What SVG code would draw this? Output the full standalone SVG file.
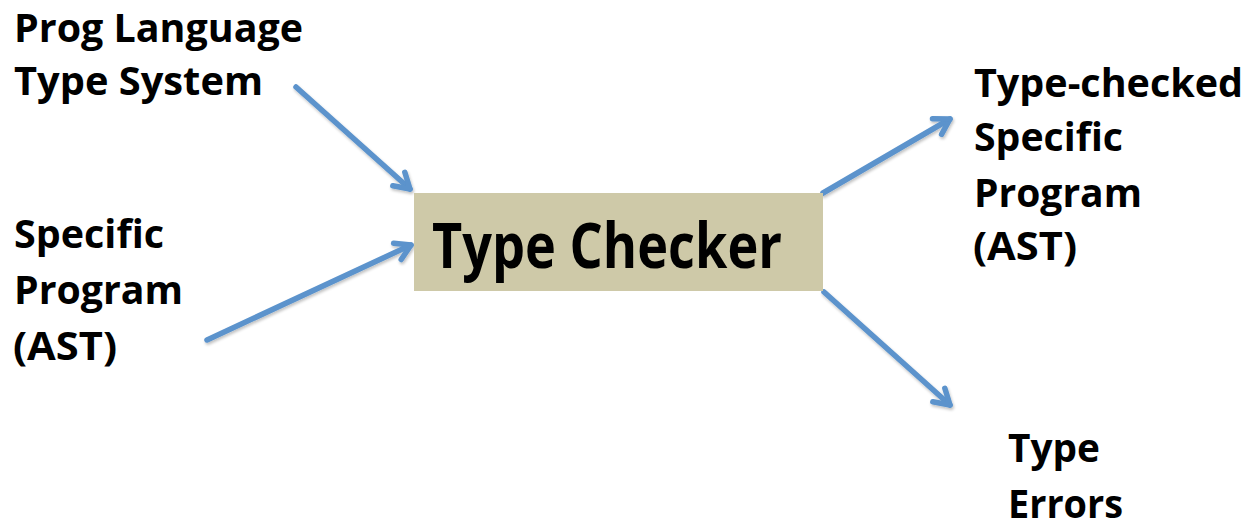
<svg xmlns="http://www.w3.org/2000/svg" width="1251" height="527" viewBox="0 0 1251 527">
  <style>
    .lbl { font-family: "Open Sans", "Noto Sans", "Liberation Sans", sans-serif; font-weight: bold; font-size: 39px; fill: #000; }
    .main { font-family: "Open Sans", "Noto Sans", "Liberation Sans", sans-serif; font-weight: bold; font-size: 62px; fill: #000; }
    .conn { fill: none; stroke: #5B93CC; stroke-width: 5.5; stroke-linecap: round; filter: url(#sh); }
  </style>
  <defs>
    <filter id="sh" x="-20%" y="-20%" width="140%" height="140%">
      <feGaussianBlur in="SourceAlpha" stdDeviation="1.5"/>
      <feOffset dx="1" dy="2" result="b"/>
      <feComponentTransfer><feFuncA type="linear" slope="0.25"/></feComponentTransfer>
      <feMerge><feMergeNode/><feMergeNode in="SourceGraphic"/></feMerge>
    </filter>
    <marker id="ah" markerUnits="userSpaceOnUse" viewBox="-20 -12 24 24" refX="0" refY="0" markerWidth="24" markerHeight="24" orient="auto">
      <path d="M-15,-9 L0,0 L-15,9" fill="none" stroke="#5B93CC" stroke-width="5.5" stroke-linecap="round" stroke-linejoin="round"/>
    </marker>
  </defs>
  <rect width="1251" height="527" fill="#fff"/>

  <g id="connectors">
    <line class="conn" x1="296" y1="87" x2="410" y2="189" marker-end="url(#ah)"/>
    <line class="conn" x1="207" y1="340" x2="411" y2="245" marker-end="url(#ah)"/>
    <line class="conn" x1="823" y1="193" x2="950" y2="119" marker-end="url(#ah)"/>
    <line class="conn" x1="824" y1="292" x2="950" y2="405" marker-end="url(#ah)"/>
  </g>

  <g id="type-checker">
    <rect x="414" y="193" width="409" height="98" fill="#CEC9A8"/>
    <text class="main" x="432" y="268" textLength="350" lengthAdjust="spacingAndGlyphs">Type Checker</text>
  </g>

  <g id="type-system">
    <text class="lbl" x="14" y="42" textLength="289" lengthAdjust="spacingAndGlyphs">Prog Language</text>
    <text class="lbl" x="14" y="95" textLength="249" lengthAdjust="spacingAndGlyphs">Type System</text>
  </g>

  <g id="specific-program">
    <text class="lbl" x="14" y="248" textLength="150" lengthAdjust="spacingAndGlyphs">Specific</text>
    <text class="lbl" x="14" y="304" textLength="169" lengthAdjust="spacingAndGlyphs">Program</text>
    <text class="lbl" x="13" y="360" textLength="104" lengthAdjust="spacingAndGlyphs">(AST)</text>
  </g>

  <g id="type-checked-program">
    <text class="lbl" x="974" y="97" textLength="269" lengthAdjust="spacingAndGlyphs">Type-checked</text>
    <text class="lbl" x="974" y="151" textLength="149" lengthAdjust="spacingAndGlyphs">Specific</text>
    <text class="lbl" x="974" y="207" textLength="168" lengthAdjust="spacingAndGlyphs">Program</text>
    <text class="lbl" x="973" y="260" textLength="104" lengthAdjust="spacingAndGlyphs">(AST)</text>
  </g>

  <g id="type-errors">
    <text class="lbl" x="1008" y="462" textLength="92" lengthAdjust="spacingAndGlyphs">Type</text>
    <text class="lbl" x="1008" y="518" textLength="115" lengthAdjust="spacingAndGlyphs">Errors</text>
  </g>
</svg>
